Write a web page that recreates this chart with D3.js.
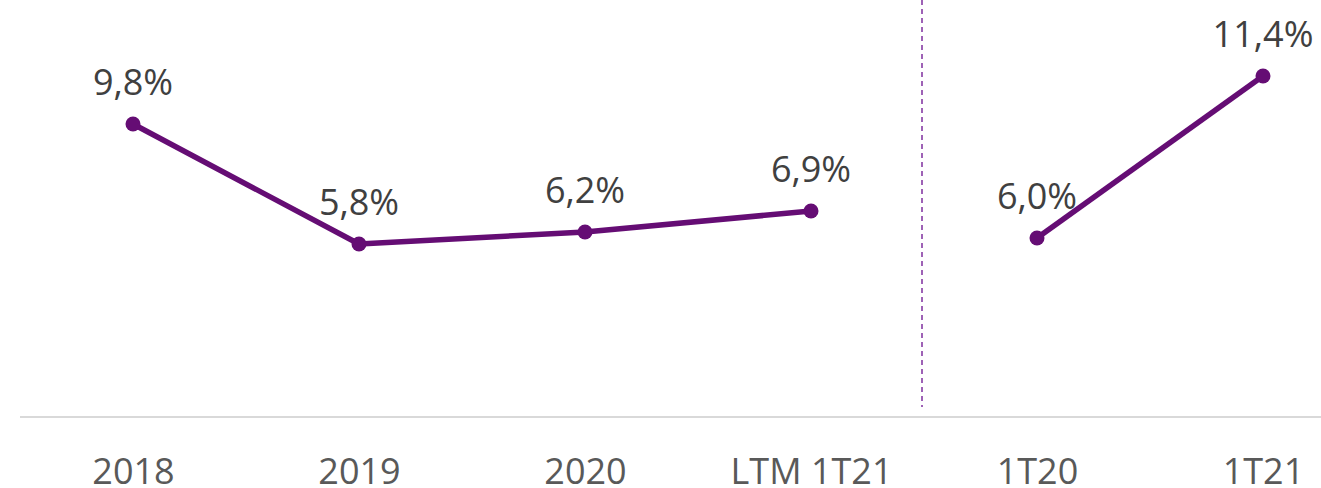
<!DOCTYPE html>
<html>
<head>
<meta charset="utf-8">
<script src="https://cdnjs.cloudflare.com/ajax/libs/d3/7.8.5/d3.min.js"></script>
<style>
  html, body { margin: 0; padding: 0; background: #fff; }
  svg { display: block; font-family: "Open Sans", sans-serif; }
</style>
</head>
<body>
<div id="chart"></div>
<script>
// Chart data
const categories = ['2018', '2019', '2020', 'LTM 1T21', '1T20', '1T21'];
const annualValues = [9.8, 5.8, 6.2, 6.9];     // 2018 .. LTM 1T21
const quarterValues = [6.0, 11.4];             // 1T20, 1T21
const valueLabels = ['9,8%', '5,8%', '6,2%', '6,9%', '6,0%', '11,4%'];

const W = 1321, H = 488;
const purple = '#650d74';

const svg = d3.select('#chart').append('svg')
    .attr('width', W)
    .attr('height', H);

// Scales
const x = d3.scalePoint()
    .domain(categories)
    .range([20, 1376])
    .padding(0.5);

const y = d3.scaleLinear()
    .domain([0, 14])
    .range([418, -2]);

// Baseline
svg.append('line')
    .attr('x1', 20).attr('x2', W)
    .attr('y1', 417).attr('y2', 417)
    .attr('stroke', '#d9d9d9')
    .attr('stroke-width', 2);

// Separator between annual and quarterly
const sepX = (x('LTM 1T21') + x('1T20')) / 2 - 2;
svg.append('line')
    .attr('x1', sepX).attr('x2', sepX)
    .attr('y1', 0).attr('y2', 407)
    .attr('stroke', '#9e62b6')
    .attr('stroke-width', 2)
    .attr('stroke-dasharray', '5,4');

// Series as point objects
const annual = annualValues.map((v, i) => ({ cat: categories[i], v }));
const quarter = quarterValues.map((v, i) => ({ cat: categories[i + 4], v }));

const line = d3.line()
    .x(d => x(d.cat))
    .y(d => y(d.v));

[annual, quarter].forEach(series => {
    svg.append('path')
        .datum(series)
        .attr('d', line)
        .attr('fill', 'none')
        .attr('stroke', purple)
        .attr('stroke-width', 5.5)
        .attr('stroke-linejoin', 'round');

    svg.selectAll(null)
        .data(series)
        .enter()
        .append('circle')
        .attr('cx', d => x(d.cat))
        .attr('cy', d => y(d.v))
        .attr('r', 7.5)
        .attr('fill', purple);
});

// Data labels
const allPoints = annual.concat(quarter);
svg.selectAll('.val')
    .data(allPoints)
    .enter()
    .append('text')
    .attr('class', 'val')
    .attr('x', d => x(d.cat))
    .attr('y', d => y(d.v) - 29)
    .attr('text-anchor', 'middle')
    .attr('fill', '#404040')
    .style('font-size', '36px')
    .text((d, i) => valueLabels[i]);

// Category axis labels
const xAxis = d3.axisBottom(x).tickSize(0).tickPadding(0);
const gx = svg.append('g')
    .call(xAxis);
gx.select('.domain').remove();
gx.selectAll('text')
    .attr('y', 484)
    .attr('dy', null)
    .attr('fill', '#595959')
    .style('font-family', '"Open Sans", sans-serif')
    .style('font-size', '36px');
</script>
</body>
</html>
